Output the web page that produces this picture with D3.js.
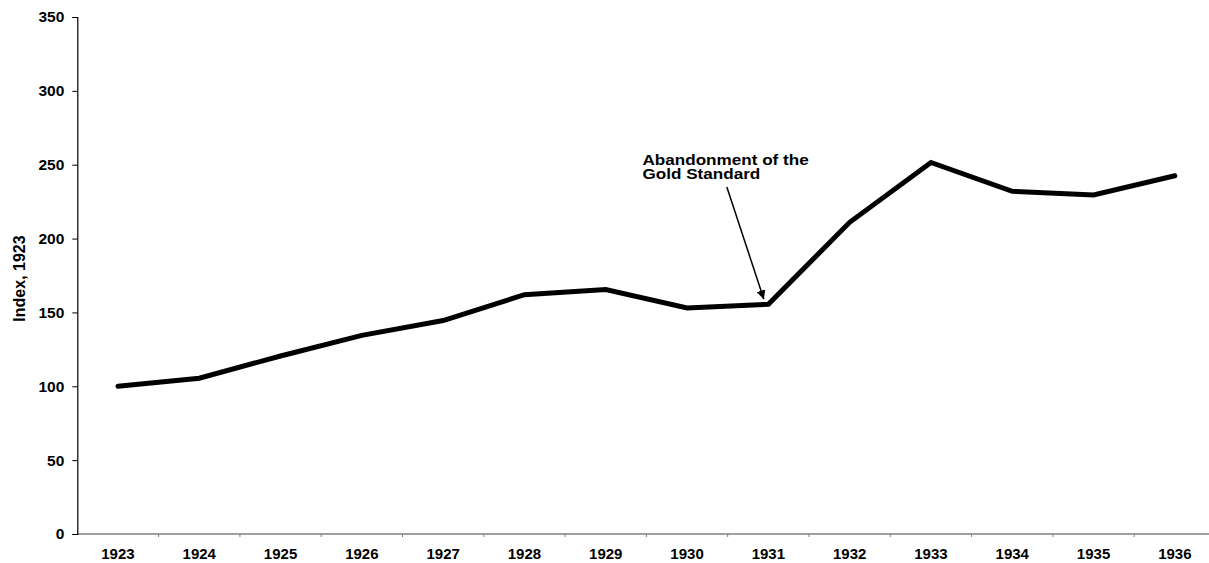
<!DOCTYPE html>
<html>
<head>
<meta charset="utf-8">
<script src="https://cdn.jsdelivr.net/npm/d3@7"></script>
<style>
  body { margin: 0; background: #fff; }
  text { font-family: Arial, "Liberation Sans", sans-serif; font-weight: bold; fill: #000; }
</style>
</head>
<body>
<div id="plot"></div>
<script>
// index values, 1923 = 100
const years = ["1923", "1924", "1925", "1926", "1927", "1928", "1929",
               "1930", "1931", "1932", "1933", "1934", "1935", "1936"];
const indexValues = [100, 105.5, 120.5, 134.5, 144.5, 162, 165.5,
                     153, 155.5, 211, 251.5, 232, 229.5, 242.5];
const yTicks = [0, 50, 100, 150, 200, 250, 300, 350];

const annotationLines = ["Abandonment of the", "Gold Standard"];
const annotationYear = "1931";

const W = 1209, H = 563;
const margin = { top: 17, left: 77.3, bottom: 29 };

const svg = d3.select("#plot").append("svg")
  .attr("width", W)
  .attr("height", H);

const x = d3.scaleBand()
  .domain(years)
  .range([margin.left, 1215.5]);

const y = d3.scaleLinear()
  .domain([0, 350])
  .range([H - margin.bottom, margin.top]);

// x axis: grey line, small ticks between categories
const xAxis = svg.append("g")
  .attr("transform", `translate(0,${y(0)})`);

xAxis.append("line")
  .attr("x1", margin.left).attr("x2", W)
  .attr("stroke", "#808080")
  .attr("stroke-width", 1.5);

xAxis.selectAll(".xtick")
  .data(years.slice(1))
  .enter().append("line")
  .attr("x1", d => x(d)).attr("x2", d => x(d))
  .attr("y1", 0).attr("y2", 3)
  .attr("stroke", "#808080");

xAxis.selectAll(".xlabel")
  .data(years)
  .enter().append("text")
  .attr("x", d => x(d) + x.bandwidth() / 2)
  .attr("y", 24.5)
  .attr("text-anchor", "middle")
  .style("font-size", "15px")
  .text(d => d);

// y axis
const yAxis = svg.append("g")
  .attr("transform", `translate(${margin.left},0)`)
  .call(d3.axisLeft(y).tickValues(yTicks).tickSize(5).tickPadding(8));

yAxis.select(".domain").attr("stroke", "#000").attr("stroke-width", 1.2);
yAxis.selectAll(".tick line").attr("stroke", "#000");
yAxis.selectAll(".tick text")
  .style("font-size", "15.5px")
  .style("font-family", "Arial, 'Liberation Sans', sans-serif")
  .style("font-weight", "bold")
  .attr("fill", "#000");

svg.append("text")
  .attr("transform", `translate(24.5,${(y(0) + y(350)) / 2 + 3}) rotate(-90)`)
  .attr("text-anchor", "middle")
  .style("font-size", "16px")
  .text("Index, 1923");

// the series
const line = d3.line()
  .x((d, i) => x(years[i]) + x.bandwidth() / 2)
  .y(d => y(d));

svg.append("path")
  .datum(indexValues)
  .attr("d", line)
  .attr("fill", "none")
  .attr("stroke", "#000")
  .attr("stroke-width", 5)
  .attr("stroke-linejoin", "miter")
  .attr("stroke-linecap", "round");

// annotation with arrow
svg.append("defs").append("marker")
  .attr("id", "arrow")
  .attr("viewBox", "0 0 10 10")
  .attr("refX", 10).attr("refY", 5)
  .attr("markerWidth", 9).attr("markerHeight", 9)
  .attr("markerUnits", "userSpaceOnUse")
  .attr("orient", "auto")
  .append("path")
  .attr("d", "M0,0 L10,5 L0,10 Z")
  .attr("fill", "#000");

const ax = x(annotationYear) + x.bandwidth() / 2;
const ai = years.indexOf(annotationYear);

svg.append("line")
  .attr("x1", ax - 41.5).attr("y1", 187)
  .attr("x2", ax - 4.5).attr("y2", y(indexValues[ai]) - 5)
  .attr("stroke", "#000")
  .attr("stroke-width", 1.5)
  .attr("marker-end", "url(#arrow)");

svg.append("text")
  .attr("transform", "translate(642.5,165) scale(1.18,1)")
  .style("font-size", "14.5px")
  .selectAll("tspan")
  .data(annotationLines)
  .enter().append("tspan")
  .attr("x", 0)
  .attr("dy", (d, i) => i === 0 ? 0 : 13.6)
  .text(d => d);
</script>
</body>
</html>
